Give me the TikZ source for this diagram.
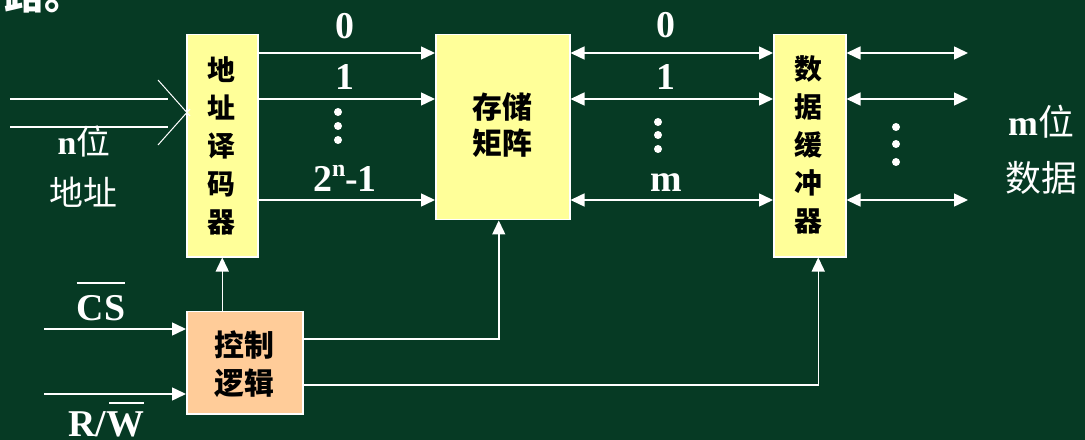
\documentclass[tikz,border=0pt]{standalone}
\usepackage{fontspec}
\setmainfont{Liberation Serif}
\newfontfamily\cjk{Noto Sans CJK SC}
\usetikzlibrary{arrows.meta}
\definecolor{bg}{HTML}{063A24}
\definecolor{boxy}{HTML}{FFFF99}
\definecolor{boxo}{HTML}{FFCC99}
\begin{document}
\begin{tikzpicture}[x=1bp,y=-1bp,
  tip/.tip={Triangle[length=14bp,width=13bp]},
  wire/.style={draw=white,line width=1.5bp},
  arr/.style={wire,-tip},
  barr/.style={wire,tip-tip},
  blk/.style={draw=white,line width=1.5bp,fill=boxy,inner sep=0pt,anchor=north west},
  ctlblk/.style={blk,fill=boxo},
  boxtxt/.style={text=black,font=\cjk\bfseries\fontsize{28}{38}\selectfont,align=center,inner sep=0pt},
  lbl/.style={text=white,font=\bfseries\fontsize{38}{38}\selectfont,inner sep=0pt},
  clbl/.style={text=white,font=\cjk\fontsize{34}{52}\selectfont,align=center,inner sep=0pt},
  bar/.style={draw=white,line width=2bp},
  dot/.style={fill=white,circle,inner sep=0pt,minimum size=8bp}
]
\fill[bg] (0,0) rectangle (1085,440);
\useasboundingbox (0,0) rectangle (1085,440);

% blocks
\node[blk,minimum width=71bp,minimum height=222bp] (dec) at (186,34) {};
\node[blk,minimum width=134bp,minimum height=185bp] (mem) at (435,34) {};
\node[blk,minimum width=72bp,minimum height=222bp] (buf) at (773,34) {};
\node[ctlblk,minimum width=116bp,minimum height=102bp] (ctl) at (186,311) {};

\node[boxtxt] (dect) at (221.5,146) {地\\址\\译\\码\\器};
\node[boxtxt,font=\cjk\bfseries\fontsize{30}{36}\selectfont] (memt) at (502,125) {存储\\矩阵};
\node[boxtxt] (buft) at (808.5,145) {数\\据\\缓\\冲\\器};
\node[boxtxt,font=\cjk\bfseries\fontsize{30}{38}\selectfont] (ctlt) at (244,364) {控制\\逻辑};

% address input
\coordinate (a1) at (10,99);
\coordinate (a2) at (10,127);
\coordinate (a1e) at (168,99);
\coordinate (a2e) at (168,127);
\draw[wire] (a1) -- (a1e);
\draw[wire] (a2) -- (a2e);
\coordinate (x1s) at (158,80);
\coordinate (x1e) at (190,116);
\coordinate (x2s) at (158,145);
\coordinate (x2e) at (190,109);
\draw[wire,line width=1bp] (x1s) -- (x1e);
\draw[wire,line width=1bp] (x2s) -- (x2e);
\node[clbl] (nlbl) at (84,141) {{\rmfamily\bfseries n}位};
\node[clbl] (alb) at (83,192) {地址};

% decoder -> memory -> buffer -> out
\foreach \y in {53,99,200}{
  \draw[arr] (dec.east |- 0,\y) -- (mem.west |- 0,\y);
  \draw[barr] (mem.east |- 0,\y) -- (buf.west |- 0,\y);
  \draw[barr] (buf.east |- 0,\y) -- (968,\y);
}
\node[lbl,anchor=base] (l0) at (345,39) {0};
\node[lbl,anchor=base] (l1) at (345,90) {1};
\node[lbl,anchor=base] (l2) at (345,192) {2\raisebox{0.4em}{\fontsize{24}{24}\selectfont n}-1};
\node[dot] (d1) at (338,112) {};
\node[dot] (d2) at (338,126) {};
\node[dot] (d3) at (338,140) {};

\node[lbl,anchor=base] (r0) at (666,38) {0};
\node[lbl,anchor=base] (r1) at (666,90) {1};
\node[lbl,anchor=base] (rm) at (666,192) {m};
\node[dot] (e1) at (658,122) {};
\node[dot] (e2) at (658,135) {};
\node[dot] (e3) at (658,149) {};

\node[dot] (f1) at (896,127) {};
\node[dot] (f2) at (896,144) {};
\node[dot] (f3) at (896,162) {};

\node[clbl,font=\cjk\fontsize{36}{36}\selectfont] (mlbl) at (1041,122) {{\rmfamily\bfseries m}位};
\node[clbl,font=\cjk\fontsize{36}{36}\selectfont] (dlbl) at (1041,178) {数据};

% control
\draw[arr] (dec.south |- ctl.north) -- (dec.south);
\draw[arr] (ctl.east |- 0,339) -| ([xshift=-4bp]mem.south);
\draw[arr] (ctl.east |- 0,385) -| ([xshift=8.5bp]buf.south);
\coordinate (cs) at (44,329);
\coordinate (rw) at (44,394);
\draw[arr] (cs) -- (ctl.west |- cs);
\draw[arr] (rw) -- (ctl.west |- rw);
\node[lbl,anchor=base] (cslbl) at (101,321) {CS};
\draw[bar] (cslbl.north west |- 0,283) -- (cslbl.north east |- 0,283);
\node[lbl,anchor=base] (rwlbl) at (106,436) {R/W};
\draw[bar] ([xshift=-35bp]rwlbl.north east |- 0,403) -- (rwlbl.north east |- 0,403);

% clipped title fragment
\node[text=white,font=\cjk\bfseries\fontsize{40}{40}\selectfont,anchor=base west,inner sep=0pt] (title) at (4,10) {路。};
\end{tikzpicture}
\end{document}
